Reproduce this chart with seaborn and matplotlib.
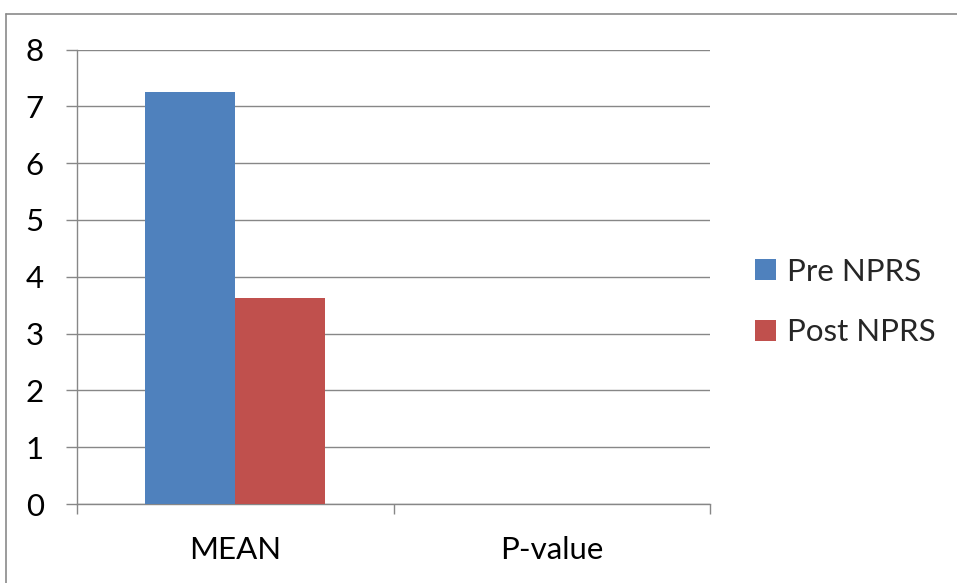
import matplotlib
matplotlib.use("Agg")
import matplotlib.pyplot as plt
from matplotlib.lines import Line2D
import pandas as pd
import seaborn as sns

# Pain scores (NPRS) before and after treatment
categories = ["MEAN", "P-value"]
pre_nprs = [7.25, 0.0]
post_nprs = [3.62, 0.0]
series_names = ["Pre NPRS", "Post NPRS"]
y_ticks = [0, 1, 2, 3, 4, 5, 6, 7, 8]

df = pd.DataFrame({
    "category": categories * 2,
    "value": pre_nprs + post_nprs,
    "series": [series_names[0]] * len(categories) + [series_names[1]] * len(categories),
})

sns.set_style("white")
plt.rcParams["font.family"] = ["Lato", "DejaVu Sans"]

W, H = 957, 583
fig = plt.figure(figsize=(W / 100, H / 100), dpi=100)
ax = fig.add_axes([77 / W, 1 - 504 / H, (710 - 77) / W, (504 - 49.5) / H])

grid_col = "#878787"
sns.barplot(data=df, x="category", y="value", hue="series",
            palette=["#4F81BD", "#C0504D"], width=0.569, gap=0,
            saturation=1, ax=ax, zorder=3, legend=True, linewidth=0)

ax.set_xlim(-0.5, 1.5)
ax.set_ylim(0, 8)
ax.set_yticks(y_ticks)
ax.set_xlabel("")
ax.set_ylabel("")

ax.yaxis.grid(True, color=grid_col, lw=1.0, zorder=0)
ax.set_axisbelow(True)
for s in ["top", "right"]:
    ax.spines[s].set_visible(False)
for s in ["left", "bottom"]:
    ax.spines[s].set_color(grid_col)
    ax.spines[s].set_linewidth(1.0)

fs = 22.5
ax.tick_params(axis="y", direction="out", length=8, width=1.0, color=grid_col,
               pad=16, labelsize=fs, labelcolor="black", left=True)
ax.set_xticks([0, 1])
ax.set_xticklabels(categories)
ax.tick_params(axis="x", which="major", length=0, pad=23, labelsize=fs,
               labelcolor="black")
ax.set_xticks([-0.5, 0.5, 1.5], minor=True)
ax.tick_params(axis="x", which="minor", direction="out", length=7.5, width=1.0,
               color=grid_col, bottom=True)

handles, labels = ax.get_legend_handles_labels()
ax.legend(handles, labels, loc="center left", bbox_to_anchor=(755 / W, 1 - 302 / H),
          bbox_transform=fig.transFigure, frameon=False, fontsize=fs,
          handlelength=0.68, handleheight=0.68, handletextpad=0.33,
          labelspacing=1.05, borderpad=0, borderaxespad=0)

# frame around the chart area
fig.add_artist(Line2D([6 / W, 1.0], [1 - 13.5 / H, 1 - 13.5 / H],
                      transform=fig.transFigure, color="#8a8a8a", lw=1.2))
fig.add_artist(Line2D([6 / W, 6 / W], [0.0, 1 - 13.5 / H],
                      transform=fig.transFigure, color="#8a8a8a", lw=1.2))

fig.savefig("out.png", dpi=100, facecolor="white")
